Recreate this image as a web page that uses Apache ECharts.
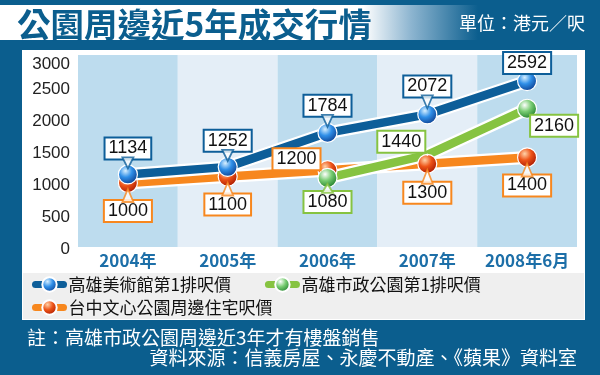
<!DOCTYPE html>
<html><head><meta charset="utf-8">
<script src="https://cdn.jsdelivr.net/npm/echarts@6/dist/echarts.min.js"></script>
<style>html,body{margin:0;padding:0;background:#0b5e8e}#c{width:600px;height:375px}</style>
</head><body><div id="c"></div>
<script>
// ---- data ----
const categories = ['2004年', '2005年', '2006年', '2007年', '2008年6月'];
const meishuguan = [1134, 1252, 1784, 2072, 2592];      // 高雄美術館第1排呎價
const shizheng   = [null, null, 1080, 1440, 2160];      // 高雄市政公園第1排呎價
const wenxin     = [1000, 1100, 1200, 1300, 1400];      // 台中文心公園周邊住宅呎價
const yMin = 0, yMax = 3000, yStep = 500;
const seriesNames = ['高雄美術館第1排呎價', '高雄市政公園第1排呎價', '台中文心公園周邊住宅呎價'];

// ---- label placement (style, not data) ----
const blueLabelOffsets   = [[0, -26], [0, -26], [0, -27], [0, -28], [0, -18]];
const greenLabelOffsets  = [null, null, [0, 24], [-26, -13], [27, 17]];
const orangeLabelOffsets = [[0, 28], [0, 28], [-31, -11], [0, 29], [0, 28]];
const hiddenSymbol = [false, false, false, true, false]; // green 2007 has no marker

const FONT = '"Liberation Sans", "Noto Sans CJK TC", sans-serif';
const CJK = '"Noto Sans CJK TC", "Liberation Sans", sans-serif';
const C_BLUE = '#0d5e99', C_GREEN = '#86c341', C_ORANGE = '#f7871e', BG = '#0b5e8e';

function sphere(c0, c1, c2) {
  return {type: 'radial', x: 0.38, y: 0.32, r: 0.72,
    colorStops: [{offset: 0, color: c0}, {offset: 0.45, color: c1}, {offset: 1, color: c2}]};
}
const SPH_BLUE = sphere('#d6efff', '#2f8fe8', '#0a3b8c');
const SPH_GREEN = sphere('#ffffff', '#78cc72', '#1a7a28');
const SPH_RED = sphere('#ffd2a8', '#ee5418', '#a31500');

function lineData(vals, offs, hide) {
  return vals.map((v, i) => {
    if (v == null) return null;
    const d = {value: v, label: {offset: offs[i]}};
    if (hide && hide[i]) { d.symbolSize = 1; }
    return d;
  });
}
function halo(vals) {
  return {type: 'line', name: '_halo', data: vals, symbol: 'none', silent: true,
    lineStyle: {color: '#ffffff', width: 13}, z: 2, legendHoverLink: false};
}
function mainLine(name, vals, offs, color, sph, hide) {
  return {
    type: 'line', name: name, data: lineData(vals, offs, hide), z: 2,
    symbol: 'circle', symbolSize: 19, showSymbol: true,
    lineStyle: {color: color, width: 8.5},
    itemStyle: {color: sph, borderColor: '#ffffff', borderWidth: 1.2},
    label: {show: true, position: 'inside', color: '#111', fontFamily: FONT, fontSize: 18,
      lineHeight: 18, backgroundColor: '#ffffff', borderColor: color, borderWidth: 2, padding: [1, 3]},
    emphasis: {disabled: true}
  };
}
function pointerSeries(vals, offs, color) {
  const data = [];
  vals.forEach((v, i) => {
    if (v == null || !offs[i] || offs[i][0] !== 0) return;
    const dy = offs[i][1];
    let base, tip, rot;
    if (dy < 0) { base = dy + 10; tip = -7; rot = 180; }
    else { base = dy - 10; tip = 7; rot = 0; }
    const h = Math.abs(base - tip);
    if (h < 3) return;
    data.push({value: [i, v], symbolOffset: [0, (base + tip) / 2], symbolRotate: rot, symbolSize: [11, h + 2]});
  });
  return {type: 'scatter', name: '_ptr', data: data, symbol: 'triangle', z: 3, silent: true,
    itemStyle: {color: '#ffffff', borderColor: color, borderWidth: 1.8}};
}

const legendCommon = {itemWidth: 28, itemHeight: 18, selectedMode: false,
  lineStyle: {width: 7, cap: 'round'},
  textStyle: {fontSize: 17, color: '#111', fontFamily: CJK}};

const chart = echarts.init(document.getElementById('c'), null, {renderer: 'canvas'});
chart.setOption({
  backgroundColor: BG,
  animation: false,
  graphic: [
    {type: 'rect', z: -10, shape: {x: 0, y: 5, width: 478, height: 35},
      style: {fill: {type: 'linear', x: 0, y: 0, x2: 1, y2: 0,
        colorStops: [{offset: 0, color: '#ffffff'}, {offset: 0.76, color: '#ffffff'},
                     {offset: 0.86, color: '#8db5d0'}, {offset: 1, color: BG}]}}},
    {type: 'rect', z: -10, shape: {x: 22, y: 50, width: 563, height: 270}, style: {fill: '#ffffff'}},
    {type: 'rect', z: -9, shape: {x: 23, y: 273, width: 561, height: 46}, style: {fill: '#efefef'}},
    {type: 'text', z: 10, x: 17, y: 24, style: {text: '公園周邊近5年成交行情', fontFamily: CJK, fontSize: 33.5,
      fontWeight: 'bold', fill: BG, align: 'left', verticalAlign: 'middle'}},
    {type: 'text', z: 10, x: 585, y: 23, style: {text: '單位：港元／呎', fontFamily: CJK, fontSize: 18,
      fill: '#ffffff', align: 'right', verticalAlign: 'middle'}},
    {type: 'text', z: 10, x: 27, y: 338, style: {text: '註：高雄市政公園周邊近3年才有樓盤銷售', fontFamily: CJK, fontSize: 19,
      fill: '#ffffff', align: 'left', verticalAlign: 'middle'}},
    {type: 'text', z: 10, x: 577, y: 358, style: {text: '資料來源：信義房屋、永慶不動產、《蘋果》資料室', fontFamily: CJK, fontSize: 19,
      fill: '#ffffff', align: 'right', verticalAlign: 'middle'}}
  ],
  grid: {left: 78, right: 23, top: 55, bottom: 128},
  legend: [
    Object.assign({data: [seriesNames[0], seriesNames[1]], left: 27, top: 271, itemGap: 34}, legendCommon),
    Object.assign({data: [seriesNames[2]], left: 27, top: 294}, legendCommon)
  ],
  xAxis: {
    type: 'category', data: categories, boundaryGap: true,
    axisLine: {show: false}, axisTick: {show: false},
    axisLabel: {interval: 0, color: '#1d6fa8', fontWeight: 'bold', fontSize: 17, fontFamily: CJK, margin: 5},
    splitArea: {show: true, interval: 0, areaStyle: {color: ['#bddcee', '#e4eef7']}}
  },
  yAxis: {
    type: 'value', min: yMin, max: yMax, interval: yStep,
    axisLine: {show: false}, axisTick: {show: false},
    axisLabel: {color: '#222', fontSize: 17, fontFamily: FONT, margin: 8, padding: [4, 0, 0, 0],
      formatter: v => v === yMax ? '{t|' + v + '}' : String(v),
      rich: {t: {fontSize: 17, fontFamily: FONT, color: '#222', padding: [14, 0, 0, 0]}}},
    splitLine: {lineStyle: {color: '#ffffff', type: [2, 2], width: 2}}
  },
  series: [
    halo(wenxin), mainLine(seriesNames[2], wenxin, orangeLabelOffsets, C_ORANGE, SPH_RED),
    halo(shizheng), mainLine(seriesNames[1], shizheng, greenLabelOffsets, C_GREEN, SPH_GREEN, hiddenSymbol),
    halo(meishuguan), mainLine(seriesNames[0], meishuguan, blueLabelOffsets, C_BLUE, SPH_BLUE),
    pointerSeries(wenxin, orangeLabelOffsets, C_ORANGE),
    pointerSeries(shizheng, greenLabelOffsets, C_GREEN),
    pointerSeries(meishuguan, blueLabelOffsets, C_BLUE)
  ]
});
</script></body></html>
